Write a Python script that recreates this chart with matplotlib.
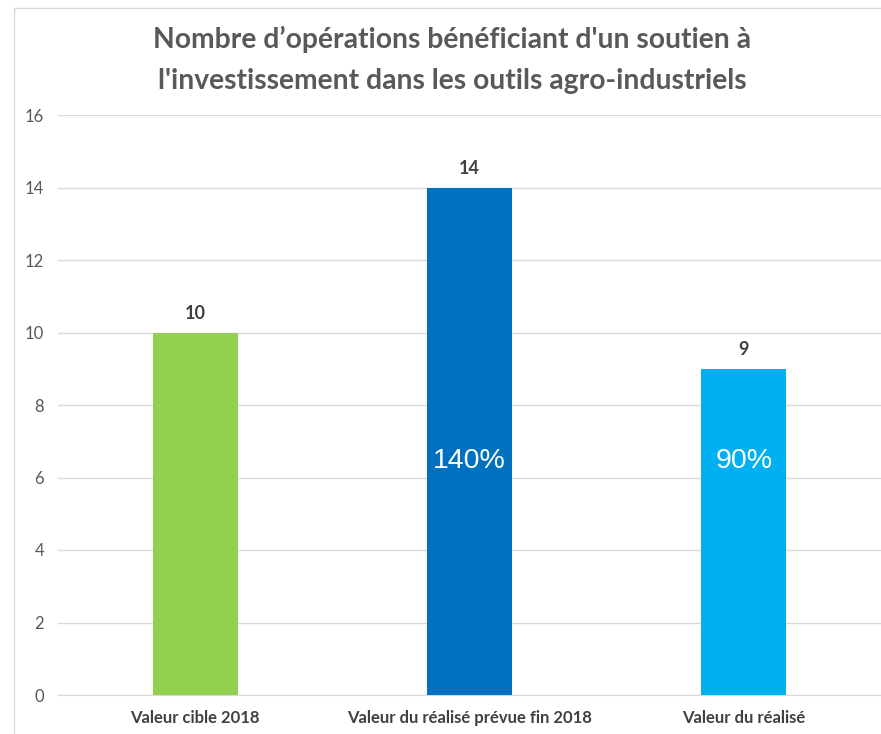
import matplotlib.pyplot as plt
from matplotlib.patches import Rectangle

# Données du graphique
categories = ['Valeur cible 2018', 'Valeur du réalisé prévue fin 2018', 'Valeur du réalisé']
valeurs = [10, 14, 9]
pourcentages = ['', '140%', '90%']
couleurs = ['#92D050', '#0070C0', '#00B0F0']
yticks = [0, 2, 4, 6, 8, 10, 12, 14, 16]

plt.rcParams['font.family'] = ['Lato', 'DejaVu Sans']

fig = plt.figure(figsize=(8.81, 7.34), dpi=100)
# cadre gris clair autour du graphique
fig.patches.append(Rectangle((14 / 881, -0.01), 1.0, 1 - 8 / 734 + 0.01,
                             transform=fig.transFigure, fill=False,
                             edgecolor='#D9D9D9', linewidth=1))

ax = fig.add_axes([58 / 881, 1 - 695 / 734, (881 - 58) / 881, 580 / 734])
x = range(len(categories))
ax.bar(x, valeurs, width=0.31, color=couleurs, zorder=3)

ax.set_xlim(-0.5, 2.5)
ax.set_ylim(0, 16)
ax.set_yticks(yticks)
ax.yaxis.grid(True, color='#D9D9D9', linewidth=1, zorder=0)
for s in ax.spines.values():
    s.set_visible(False)
ax.spines['bottom'].set_visible(True)
ax.spines['bottom'].set_color('#D9D9D9')
ax.tick_params(axis='both', length=0, colors='#595959', labelsize=12)
ax.tick_params(axis='y', pad=10)
ax.set_xticks(list(x))
ax.set_xticklabels(categories, fontweight='bold', fontsize=12, color='#404040')
ax.tick_params(axis='x', pad=11)

for i, v in enumerate(valeurs):
    ax.text(i, v + 0.3, str(v), ha='center', va='bottom', fontsize=13,
            fontweight='bold', color='#404040')
    if pourcentages[i]:
        ax.text(i, 6.45, pourcentages[i], ha='center', va='center', fontsize=20.5,
                color='white', family=['Liberation Sans', 'DejaVu Sans'])

fig.text(452 / 881, 1 - 60 / 734,
         "Nombre d\u2019opérations bénéficiant d'un soutien à\nl'investissement dans les outils agro-industriels",
         ha='center', va='center', fontsize=20.3, fontweight='bold', color='#595959',
         linespacing=1.68)

fig.savefig('out.png', dpi=100)
